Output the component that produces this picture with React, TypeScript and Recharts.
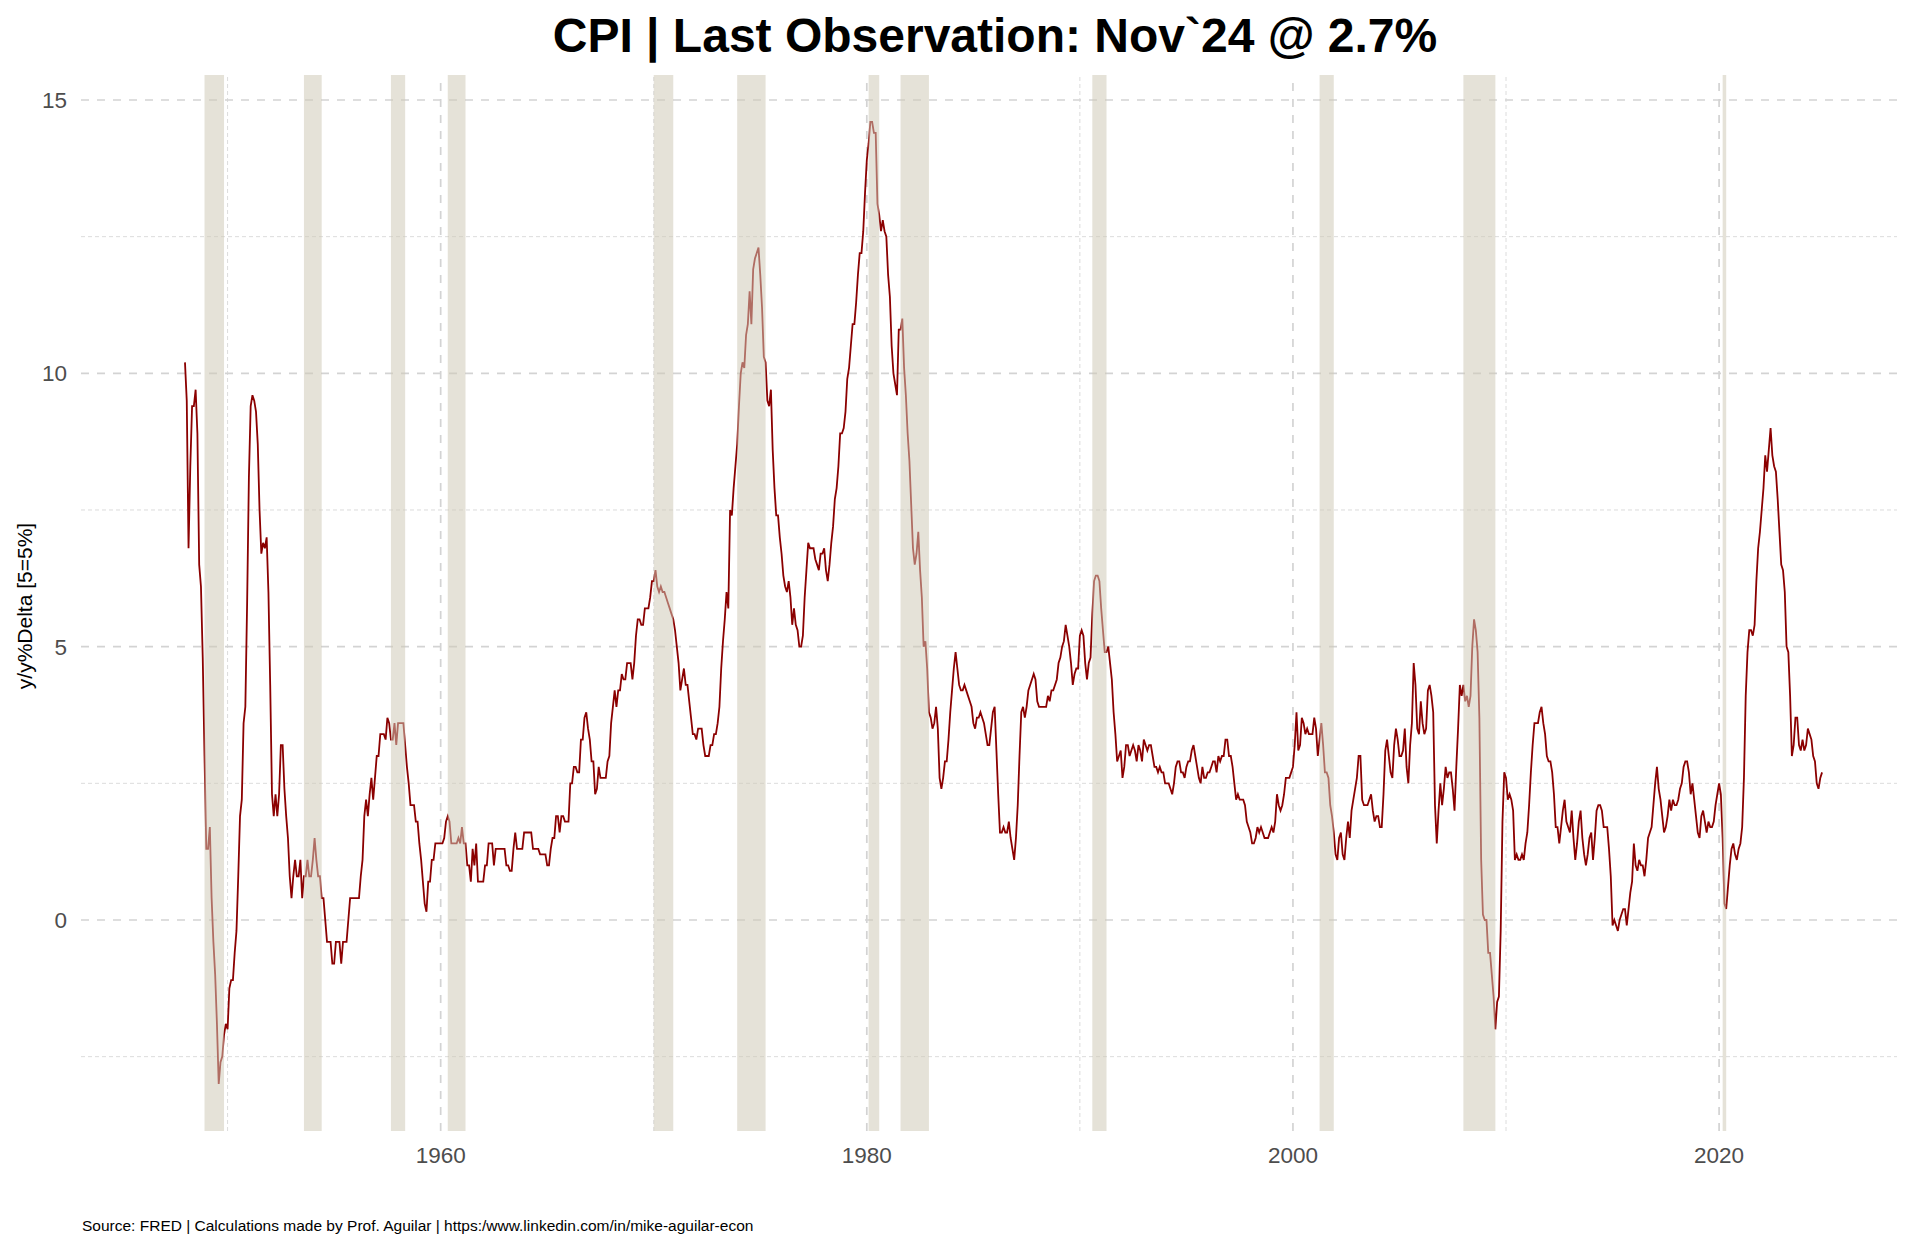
import { LineChart, Line, XAxis, YAxis, ReferenceLine, ReferenceArea } from 'recharts';

const W = 1920;
const H = 1248;
const FONT = '"Liberation Sans", Arial, sans-serif';

// CPI y/y % change, monthly, first value = Jan 1948
const FIRST_YEAR = 1948;

const cpi1940s = [
  10.2, 9.5, 6.8, 8.3, 9.4, 9.4, 9.7, 8.9, 6.5, 6.1, 4.8, 3.0,
  1.3, 1.3, 1.7, 0.4, -0.4, -1.0, -1.9, -3.0, -2.6, -2.5, -2.1, -1.9,
];

const cpi1950s = [
  -2.0, -1.25, -1.1, -1.1, -0.6, -0.2, 0.8, 1.9, 2.2, 3.6, 3.9, 5.8,
  8.1, 9.4, 9.6, 9.5, 9.3, 8.7, 7.5, 6.7, 6.9, 6.8, 7.0, 6.0,
  4.3, 2.3, 1.9, 2.3, 1.9, 2.3, 3.2, 3.2, 2.4, 1.9, 1.5, 0.8,
  0.4, 0.8, 1.1, 0.8, 0.8, 1.1, 0.4, 0.8, 0.8, 1.1, 0.8, 0.8,
  1.1, 1.5, 1.1, 0.8, 0.8, 0.4, 0.4, 0.0, -0.4, -0.4, -0.4, -0.8,
  -0.8, -0.4, -0.4, -0.4, -0.8, -0.4, -0.4, -0.4, 0.0, 0.4, 0.4, 0.4,
  0.4, 0.4, 0.4, 0.8, 1.1, 1.9, 2.2, 1.9, 2.3, 2.6, 2.2, 2.6,
  3.0, 3.0, 3.4, 3.4, 3.4, 3.3, 3.7, 3.6, 3.3, 3.3, 3.6, 3.2,
  3.6, 3.6, 3.6, 3.6, 3.2, 2.8, 2.5, 2.1, 2.1, 2.1, 1.8, 1.8,
  1.4, 1.1, 0.7, 0.3, 0.15, 0.7, 0.7, 1.1, 1.1, 1.4, 1.4, 1.4,
];

const cpi1960s = [
  1.4, 1.4, 1.5, 1.8, 1.9, 1.8, 1.4, 1.4, 1.4, 1.4, 1.5, 1.4,
  1.7, 1.4, 1.4, 1.0, 1.0, 0.7, 1.3, 1.0, 1.4, 0.7, 0.7, 0.7,
  0.7, 1.0, 1.0, 1.4, 1.4, 1.4, 1.0, 1.3, 1.3, 1.3, 1.3, 1.3,
  1.3, 1.0, 1.0, 0.9, 0.9, 1.3, 1.6, 1.3, 1.3, 1.3, 1.3, 1.6,
  1.6, 1.6, 1.6, 1.6, 1.3, 1.3, 1.3, 1.3, 1.2, 1.2, 1.2, 1.2,
  1.0, 1.0, 1.3, 1.5, 1.5, 1.9, 1.9, 1.6, 1.9, 1.9, 1.8, 1.8,
  1.8, 2.5, 2.5, 2.8, 2.8, 2.7, 2.7, 3.3, 3.3, 3.7, 3.8, 3.5,
  3.3, 2.9, 2.9, 2.3, 2.4, 2.8, 2.6, 2.6, 2.6, 2.6, 2.9, 3.0,
  3.6, 3.9, 4.2, 3.9, 4.2, 4.2, 4.5, 4.4, 4.4, 4.7, 4.7, 4.7,
  4.4, 4.7, 5.2, 5.5, 5.5, 5.4, 5.4, 5.7, 5.7, 5.7, 5.9, 6.2,
];

const cpi1970s = [
  6.2, 6.4, 6.1, 6.0, 6.1, 6.0, 6.0, 5.9, 5.8, 5.7, 5.6, 5.5,
  5.3, 5.0, 4.7, 4.2, 4.4, 4.6, 4.3, 4.3, 4.0, 3.7, 3.4, 3.4,
  3.3, 3.5, 3.5, 3.5, 3.2, 3.0, 3.0, 3.0, 3.2, 3.2, 3.4, 3.4,
  3.6, 3.9, 4.6, 5.1, 5.5, 6.0, 5.7, 7.5, 7.4, 7.9, 8.3, 8.7,
  9.4, 10.0, 10.2, 10.1, 10.7, 10.9, 11.5, 10.9, 11.9, 12.1, 12.2, 12.3,
  11.8, 11.2, 10.3, 10.2, 9.5, 9.4, 9.7, 8.6, 7.9, 7.4, 7.4, 7.0,
  6.7, 6.3, 6.1, 6.0, 6.2, 5.9, 5.4, 5.7, 5.4, 5.3, 5.0, 5.0,
  5.2, 5.9, 6.4, 6.9, 6.8, 6.8, 6.8, 6.6, 6.5, 6.4, 6.7, 6.7,
  6.8, 6.4, 6.2, 6.5, 6.9, 7.2, 7.7, 7.9, 8.3, 8.9, 8.9, 9.0,
  9.3, 9.9, 10.1, 10.5, 10.9, 10.9, 11.3, 11.8, 12.2, 12.2, 12.6, 13.3,
];

const cpi1980s = [
  13.9, 14.2, 14.6, 14.6, 14.4, 14.4, 13.1, 12.9, 12.6, 12.8, 12.6, 12.5,
  11.8, 11.4, 10.5, 10.0, 9.8, 9.6, 10.8, 10.8, 11.0, 10.1, 9.6, 8.9,
  8.4, 7.6, 6.8, 6.5, 6.7, 7.1, 6.4, 5.9, 5.0, 5.1, 4.6, 3.8,
  3.7, 3.5, 3.6, 3.9, 3.5, 2.6, 2.4, 2.6, 2.9, 2.9, 3.3, 3.8,
  4.2, 4.6, 4.9, 4.6, 4.3, 4.2, 4.2, 4.3, 4.2, 4.1, 4.0, 3.9,
  3.6, 3.5, 3.7, 3.7, 3.8, 3.7, 3.6, 3.4, 3.2, 3.2, 3.5, 3.8,
  3.9, 3.1, 2.3, 1.6, 1.6, 1.7, 1.6, 1.6, 1.8, 1.5, 1.3, 1.1,
  1.5, 2.1, 3.0, 3.8, 3.9, 3.7, 3.9, 4.2, 4.3, 4.4, 4.5, 4.4,
  4.0, 3.9, 3.9, 3.9, 3.9, 3.9, 4.1, 4.0, 4.2, 4.2, 4.3, 4.4,
  4.7, 4.8, 5.0, 5.1, 5.4, 5.2, 5.0, 4.7, 4.3, 4.5, 4.6, 4.6,
];

const cpi1990s = [
  5.2, 5.3, 5.2, 4.7, 4.4, 4.7, 4.8, 5.6, 6.2, 6.3, 6.3, 6.2,
  5.7, 5.3, 4.9, 4.9, 5.0, 4.7, 4.4, 3.8, 3.4, 2.9, 3.0, 3.1,
  2.6, 2.8, 3.2, 3.2, 3.0, 3.1, 3.2, 3.1, 2.9, 3.2, 3.1, 2.9,
  3.3, 3.2, 3.1, 3.2, 3.2, 3.0, 2.8, 2.8, 2.7, 2.8, 2.7, 2.7,
  2.5, 2.5, 2.5, 2.4, 2.3, 2.5, 2.8, 2.9, 2.9, 2.7, 2.7, 2.6,
  2.8, 2.9, 2.9, 3.1, 3.2, 3.0, 2.8, 2.6, 2.5, 2.8, 2.6, 2.6,
  2.7, 2.7, 2.8, 2.9, 2.9, 2.7, 3.0, 2.9, 3.0, 3.0, 3.3, 3.3,
  3.0, 3.0, 2.8, 2.5, 2.2, 2.3, 2.2, 2.2, 2.2, 2.1, 1.8, 1.7,
  1.6, 1.4, 1.4, 1.5, 1.7, 1.6, 1.7, 1.6, 1.5, 1.5, 1.5, 1.6,
  1.7, 1.6, 1.8, 2.3, 2.1, 2.0, 2.1, 2.3, 2.6, 2.6, 2.6, 2.7,
];

const cpi2000s = [
  2.8, 3.2, 3.8, 3.1, 3.2, 3.7, 3.6, 3.4, 3.5, 3.4, 3.4, 3.4,
  3.7, 3.5, 3.0, 3.3, 3.6, 3.2, 2.7, 2.7, 2.6, 2.1, 1.9, 1.6,
  1.2, 1.1, 1.5, 1.6, 1.2, 1.1, 1.5, 1.8, 1.5, 2.0, 2.2, 2.4,
  2.6, 3.0, 3.0, 2.2, 2.1, 2.1, 2.1, 2.2, 2.3, 2.0, 1.8, 1.9,
  1.9, 1.7, 1.7, 2.3, 3.1, 3.3, 3.0, 2.7, 2.6, 3.2, 3.5, 3.3,
  3.0, 3.0, 3.1, 3.5, 2.8, 2.5, 3.2, 3.6, 4.7, 4.3, 3.5, 3.4,
  4.0, 3.6, 3.4, 3.5, 4.2, 4.3, 4.1, 3.8, 2.1, 1.4, 2.0, 2.5,
  2.1, 2.4, 2.8, 2.6, 2.7, 2.7, 2.4, 2.0, 2.8, 3.5, 4.3, 4.1,
  4.3, 4.0, 4.1, 3.9, 4.1, 5.0, 5.5, 5.3, 4.9, 3.7, 1.1, 0.1,
  0.0, 0.0, -0.6, -0.6, -1.0, -1.4, -2.0, -1.5, -1.4, -0.2, 1.8, 2.7,
];

const cpi2010s = [
  2.6, 2.2, 2.3, 2.2, 2.0, 1.1, 1.2, 1.1, 1.1, 1.2, 1.1, 1.4,
  1.6, 2.1, 2.7, 3.2, 3.6, 3.6, 3.6, 3.8, 3.9, 3.6, 3.4, 3.0,
  2.9, 2.9, 2.7, 2.3, 1.7, 1.7, 1.4, 1.7, 2.0, 2.2, 1.8, 1.7,
  1.6, 2.0, 1.5, 1.1, 1.4, 1.8, 2.0, 1.5, 1.2, 1.0, 1.2, 1.5,
  1.6, 1.1, 1.5, 2.0, 2.1, 2.1, 2.0, 1.7, 1.7, 1.7, 1.3, 0.8,
  -0.1, 0.0, -0.1, -0.2, 0.0, 0.1, 0.2, 0.2, -0.1, 0.2, 0.5, 0.7,
  1.4, 1.0, 0.9, 1.1, 1.0, 1.0, 0.8, 1.1, 1.5, 1.6, 1.7, 2.1,
  2.5, 2.8, 2.4, 2.2, 1.9, 1.6, 1.7, 1.9, 2.2, 2.0, 2.2, 2.1,
  2.1, 2.2, 2.4, 2.5, 2.8, 2.9, 2.9, 2.7, 2.3, 2.5, 2.2, 1.9,
  1.6, 1.5, 1.9, 2.0, 1.8, 1.6, 1.8, 1.7, 1.7, 1.8, 2.1, 2.3,
];

const cpi2020s = [
  2.5, 2.3, 1.5, 0.3, 0.2, 0.6, 1.0, 1.3, 1.4, 1.2, 1.1, 1.3,
  1.4, 1.7, 2.6, 4.1, 4.9, 5.3, 5.3, 5.2, 5.4, 6.2, 6.8, 7.1,
  7.5, 7.9, 8.5, 8.2, 8.6, 9.0, 8.5, 8.3, 8.2, 7.7, 7.1, 6.5,
  6.4, 6.0, 5.0, 4.9, 4.1, 3.0, 3.2, 3.7, 3.7, 3.2, 3.1, 3.3,
  3.1, 3.2, 3.5, 3.4, 3.3, 3.0, 2.9, 2.5, 2.4, 2.6, 2.7,
];

const cpiYoY = [
  ...cpi1940s, ...cpi1950s, ...cpi1960s, ...cpi1970s,
  ...cpi1980s, ...cpi1990s, ...cpi2000s, ...cpi2010s, ...cpi2020s,
];

// NBER recessions: first recession month .. first month after the trough
const recessionStart = ['1948-12', '1953-08', '1957-09', '1960-05', '1970-01', '1973-12', '1980-02', '1981-08', '1990-08', '2001-04', '2008-01', '2020-03'];
const recessionEnd   = ['1949-11', '1954-06', '1958-05', '1961-03', '1970-12', '1975-04', '1980-08', '1982-12', '1991-04', '2001-12', '2009-07', '2020-05'];

const yTicks = [0, 5, 10, 15];
const yMinor = [-2.5, 2.5, 7.5, 12.5];
const xTicks = [1960, 1980, 2000, 2020];
const xMinor = [1950, 1970, 1990, 2010];

const toYear = (s: string) => {
  const [y, m] = s.split('-').map(Number);
  return y + (m - 1) / 12;
};

const data = cpiYoY.map((v, i) => ({ t: FIRST_YEAR + i / 12, v }));

const GRID = '#d3d3d3';
const GRID_MINOR = '#dcdcdc';

export default function App() {
  return (
    <div style={{ position: 'absolute', left: 0, top: 0, width: W, height: H, background: '#fff', fontFamily: FONT }}>
      <LineChart width={W} height={H} data={data} margin={{ top: 75, right: 23, bottom: 57, left: 0 }}>
        <XAxis
          type="number"
          dataKey="t"
          domain={[1943.12, 2028.35]}
          ticks={xTicks}
          interval={0}
          allowDataOverflow
          axisLine={false}
          tickLine={false}
          tickSize={0}
          tickMargin={16}
          height={60}
          tick={{ fill: '#4d4d4d', fontSize: 22.5, fontFamily: FONT }}
        />
        <YAxis
          type="number"
          domain={[-3.86, 15.457]}
          ticks={yTicks}
          interval={0}
          allowDataOverflow
          axisLine={false}
          tickLine={false}
          tickSize={0}
          tickMargin={14}
          width={81}
          tick={{ fill: '#4d4d4d', fontSize: 22.5, fontFamily: FONT }}
        />
        {yMinor.map(v => (
          <ReferenceLine key={'ym' + v} y={v} stroke={GRID_MINOR} strokeWidth={1} strokeDasharray="4 3" zIndex={-100} />
        ))}
        {xMinor.map(v => (
          <ReferenceLine key={'xm' + v} x={v} stroke={GRID_MINOR} strokeWidth={1} strokeDasharray="4 3" zIndex={-100} />
        ))}
        {yTicks.map(v => (
          <ReferenceLine key={'y' + v} y={v} stroke={GRID} strokeWidth={1.7} strokeDasharray="8 8" zIndex={-100} />
        ))}
        {xTicks.map(v => (
          <ReferenceLine key={'x' + v} x={v} stroke={GRID} strokeWidth={1.7} strokeDasharray="8 8" zIndex={-100} />
        ))}
        <Line
          type="linear"
          dataKey="v"
          stroke="#8b0000"
          strokeWidth={1.8}
          dot={false}
          activeDot={false}
          isAnimationActive={false}
        />
        {recessionStart.map((s, i) => (
          <ReferenceArea
            key={s}
            x1={toYear(s)}
            x2={toYear(recessionEnd[i])}
            fill="#cfcab7"
            fillOpacity={0.54}
            stroke="none"
            zIndex={450}
          />
        ))}
      </LineChart>
      <svg width={W} height={H} style={{ position: 'absolute', left: 0, top: 0, pointerEvents: 'none' }}>
        <text x={995} y={52} textAnchor="middle" fontSize={48} fontWeight="bold" fill="#000" fontFamily={FONT}>
          CPI | Last Observation: Nov`24 @ 2.7%
        </text>
        <text x={32} y={606} textAnchor="middle" fontSize={21} fill="#000" fontFamily={FONT} transform="rotate(-90 32 606)">
          y/y%Delta [5=5%]
        </text>
        <text x={82} y={1231} fontSize={15.5} fill="#000" fontFamily={FONT}>
          Source: FRED | Calculations made by Prof. Aguilar | https:/www.linkedin.com/in/mike-aguilar-econ
        </text>
      </svg>
    </div>
  );
}
